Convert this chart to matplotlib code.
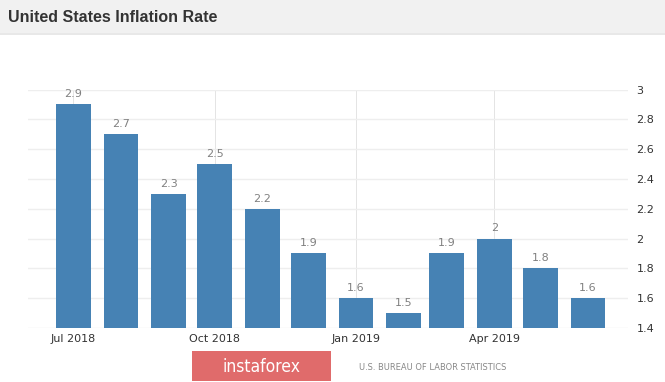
import numpy as np
import pandas as pd
import matplotlib
matplotlib.use('Agg')
import matplotlib.pyplot as plt
import matplotlib.dates as mdates
from matplotlib.patches import Rectangle

# monthly US inflation rate, Jul 2018 - Jun 2019
months = pd.date_range('2018-07-01', '2019-06-01', freq='MS')
rates = [2.9, 2.7, 2.3, 2.5, 2.2, 1.9, 1.6, 1.5, 1.9, 2.0, 1.8, 1.6]
value_labels = ['2.9', '2.7', '2.3', '2.5', '2.2', '1.9', '1.6', '1.5', '1.9', '2', '1.8', '1.6']
xtick_dates = pd.to_datetime(['2018-07-01', '2018-10-01', '2019-01-01', '2019-04-01'])
xtick_labels = ['Jul 2018', 'Oct 2018', 'Jan 2019', 'Apr 2019']
yticks = [1.4, 1.6, 1.8, 2.0, 2.2, 2.4, 2.6, 2.8, 3.0]
ytick_labels = ['1.4', '1.6', '1.8', '2', '2.2', '2.4', '2.6', '2.8', '3']

W, H = 665, 382
fig = plt.figure(figsize=(W / 100, H / 100), dpi=100)
fig.patch.set_facecolor('white')

# title band
fig.patches.append(Rectangle((0, 1 - 33 / H), 1, 33 / H, transform=fig.transFigure,
                             facecolor='#f1f1f1', edgecolor='none', zorder=0))
fig.patches.append(Rectangle((0, 1 - 35 / H), 1, 2 / H, transform=fig.transFigure,
                             facecolor='#e8e8e8', edgecolor='none', zorder=0))
fig.text(8 / W, 1 - 17 / H, 'United States Inflation Rate', fontsize=11.5, fontweight='bold',
         family='Liberation Sans', color='#333333', va='center', ha='left')

ax = fig.add_axes([28 / W, 1 - 328 / H, 600 / W, (328 - 89.5) / H])
x = mdates.date2num(months)
ax.bar(x, [r - 1.4 for r in rates], bottom=1.4, width=22.4, color='#4682b4',
       edgecolor='none', zorder=3)
for xi, r, lab in zip(x, rates, value_labels):
    ax.text(xi, r + 0.035, lab, ha='center', va='bottom', fontsize=8, color='#808080',
            clip_on=False)

ax.set_xlim(mdates.date2num(pd.Timestamp('2018-06-01')) + 0.5,
            mdates.date2num(pd.Timestamp('2019-06-27')))
ax.set_ylim(1.4, 3.0)
ax.set_yticks(yticks)
ax.set_yticklabels(ytick_labels)
ax.yaxis.tick_right()
ax.set_xticks(mdates.date2num(xtick_dates))
ax.set_xticklabels(xtick_labels)
ax.tick_params(axis='y', length=0, pad=6, labelsize=8, labelcolor='#333333')
ax.tick_params(axis='x', length=0, pad=4, labelsize=8, labelcolor='#333333')
ax.grid(axis='y', color='#eeeeee', linewidth=1, zorder=0)
ax.grid(axis='x', color='#e4e4e4', linewidth=0.7, zorder=0)
for s in ax.spines.values():
    s.set_visible(False)
ax.set_facecolor('white')

# footer
fig.patches.append(Rectangle((192 / W, 1 - 381 / H), 139 / W, 30 / H, transform=fig.transFigure,
                             facecolor='#e06b6b', edgecolor='none'))
fig.text(261 / W, 1 - 367 / H, 'instaforex', fontsize=12.5, color='white',
         ha='center', va='center', family='DejaVu Sans', stretch='condensed')
fig.text(433 / W, 1 - 367 / H, 'U.S. BUREAU OF LABOR STATISTICS', fontsize=6.7, color='#888888',
         ha='center', va='center', family='DejaVu Sans', stretch='condensed')

fig.savefig('out.png', dpi=100)
